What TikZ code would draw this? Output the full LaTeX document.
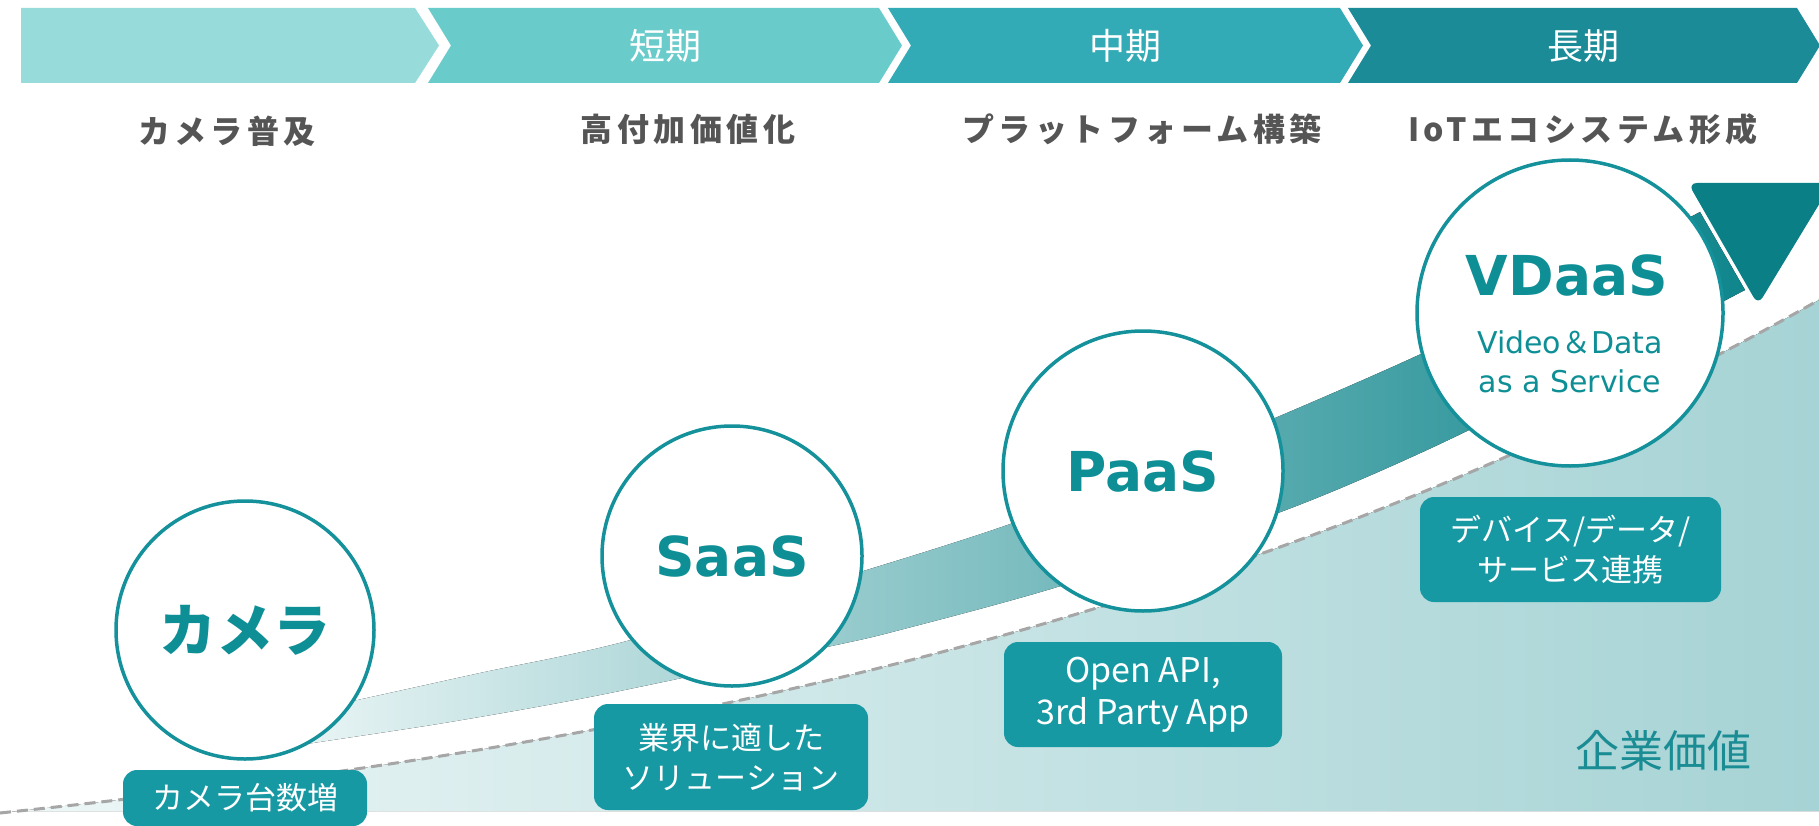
\documentclass[tikz,border=0pt]{standalone}
\usepackage{fontspec}
\setmainfont{DejaVu Sans}
\newfontfamily\jp{Noto Sans CJK JP}
\newfontfamily\jphead{Noto Sans CJK JP}[LetterSpace=14]
\definecolor{cA}{HTML}{97DCDB}
\definecolor{cB}{HTML}{6ACBCB}
\definecolor{cC}{HTML}{33ABB6}
\definecolor{cD}{HTML}{1B8B98}
\definecolor{tealring}{HTML}{14919A}
\definecolor{tealtext}{HTML}{0E8F96}
\definecolor{boxc}{HTML}{1699A3}
\definecolor{headgray}{HTML}{555555}
\definecolor{arrowc}{HTML}{0A8086}
\definecolor{dashc}{HTML}{A6A6A6}
\definecolor{bgL}{HTML}{EEF7F7}
\definecolor{bgR}{HTML}{A6D3D5}
\definecolor{bandL}{HTML}{F0F8F8}
\definecolor{bandR}{HTML}{0F868C}
\definecolor{valc}{HTML}{1A8C94}
\begin{document}
\begin{tikzpicture}[x=1pt,y=-1pt,
  ring/.style={circle, draw=tealring, line width=3.5pt, fill=white, inner sep=0pt, text=tealtext},
  tagbox/.style={rounded corners=14pt, fill=boxc, text=white, align=center, inner sep=0pt,
    font=\jp\fontsize{31}{40}\selectfont},
  phase/.style={text=white, inner sep=0pt, font=\jp\fontsize{36}{40}\selectfont},
  head/.style={text=headgray, inner sep=0pt, font=\jphead\bfseries\fontsize{32}{34}\selectfont},
  big/.style={font=\bfseries\fontsize{55}{60}\selectfont}
]
\useasboundingbox (0,0) rectangle (1819,826);
% phase chevrons
\fill[cA] (21,8) -- (415,8) -- (439,45.5) -- (415,83) -- (21,83) -- cycle;
\fill[cB] (428,8) -- (879,8) -- (902,45.5) -- (879,83) -- (428,83) -- (451,45.5) -- cycle;
\fill[cC] (888,8) -- (1340,8) -- (1363,45.5) -- (1340,83) -- (888,83) -- (911,45.5) -- cycle;
\fill[cD] (1348,8) -- (1797,8) -- (1820,45.5) -- (1797,83) -- (1348,83) -- (1371,45.5) -- cycle;
\node[phase] (p1) at (665,46) {短期};
\node[phase] (p2) at (1125,46) {中期};
\node[phase] (p3) at (1583,46) {長期};
% headings
\node[head] (h0) at (227,131) {カメラ普及};
\node[head] (h1) at (688,129) {高付加価値化};
\node[head] (h2) at (1142,129) {プラットフォーム構築};
\node[head] (h3) at (1583,129) {IoTエコシステム形成};
% value area
\fill[left color=bgL, right color=bgR] (0,813) .. controls (600,750) and (1219,640) .. (1819,300) -- (1819,811) -- (0,811) -- cycle;
\draw[dashc, line width=3pt, dash pattern=on 11pt off 6pt] (0,813) .. controls (600,750) and (1219,640) .. (1819,300);
% growth band
\fill[left color=bandL, right color=bandR]
  plot[smooth] coordinates {(250,723) (353,701) (480,673) (627,641) (860,572) (1013,523) (1150,469) (1275,418) (1423,353) (1560,285) (1700,212)}
  -- plot[smooth] coordinates {(1745,290) (1600,365) (1427,450) (1278,513) (1064,585) (900,630) (827,647) (600,695) (450,722) (313,743) (250,753)}
  -- cycle;
\fill[arrowc, rounded corners=9pt] (1688,183) -- (1832,183) -- (1758,305) -- cycle;
% stage circles
\node[ring, minimum size=258pt] (cam) at (245,630) {\jp\bfseries\fontsize{57}{60}\selectfont カメラ};
\node[ring, minimum size=260pt, big] (saas) at (732,556) {SaaS};
\node[ring, minimum size=280pt, big] (paas) at (1143,471) {PaaS};
\node[ring, minimum size=306pt] (vdaas) at (1570,313) {};
\node[text=tealtext, big, inner sep=0pt] (vdt) at (1567,275) {VDaaS};
\node[text=tealtext, inner sep=0pt, align=center, font=\fontsize{30}{39}\selectfont] (vds) at (1570,362) {Video{\jp ＆}Data\\as a Service};
% tags
\node[tagbox, minimum width=244pt, minimum height=56pt] (t0) at (245,798) {カメラ台数増};
\node[tagbox, minimum width=274pt, minimum height=106pt] (t1) at (731,757) {業界に適した\\ソリューション};
\node[tagbox, minimum width=278pt, minimum height=105pt, font=\jp\fontsize{34}{42}\selectfont] (t2) at (1143,694.5) {Open API,\\3rd Party App};
\node[tagbox, minimum width=301pt, minimum height=105pt] (t3) at (1570.5,549.5) {デバイス/データ/\\サービス連携};
\node[text=valc, inner sep=0pt, font=\jp\fontsize{44}{50}\selectfont] (val) at (1663,751) {企業価値};
\end{tikzpicture}
\end{document}
